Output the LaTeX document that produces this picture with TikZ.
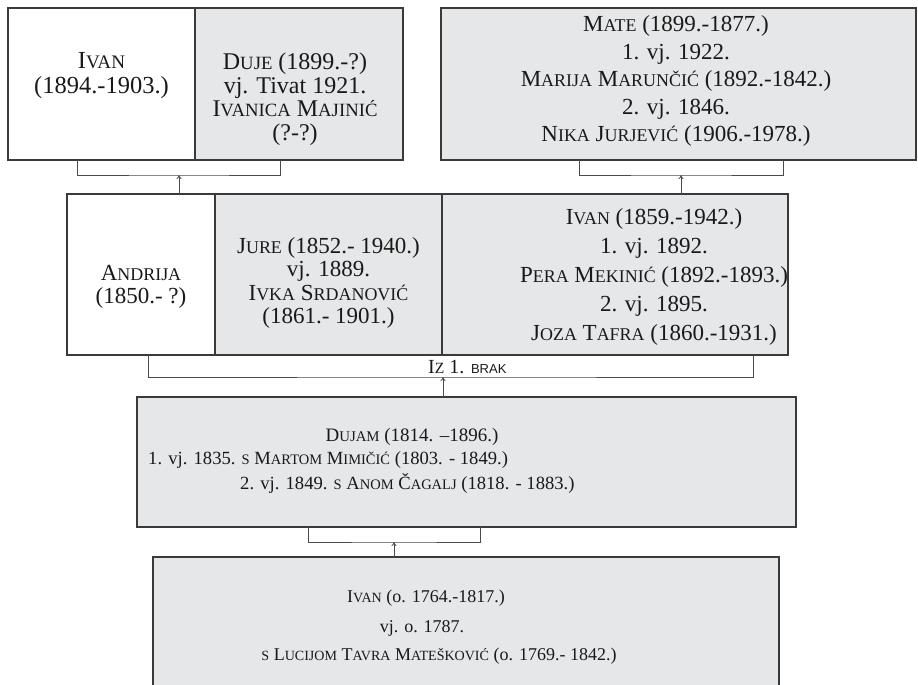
\documentclass[tikz,border=0pt]{standalone}
\usepackage{fontspec}
\setmainfont{Liberation Serif}
\setsansfont{Liberation Sans}
\usetikzlibrary{arrows.meta}
\definecolor{boxgray}{HTML}{E6E7E8}
\definecolor{edge}{HTML}{3A3A3A}
\definecolor{lnk}{HTML}{4A4A4A}
\makeatletter
\newcommand\sk[1]{{\fontsize{\fpeval{0.78*\f@size}}{\f@baselineskip}\selectfont #1}}
\makeatother
\begin{document}
\begin{tikzpicture}[x=1pt,y=-1pt,
  wbox/.style={draw=edge,line width=1.3pt,fill=white,inner sep=0pt},
  gbox/.style={draw=edge,line width=1.3pt,fill=boxgray,inner sep=0pt},
  txt/.style={inner sep=0pt,align=center,text=black!90},
  brk/.style={draw=lnk,line width=0.9pt},
  arr/.style={draw=lnk,line width=0.8pt,-{To[length=4pt,width=5pt]}}]
\useasboundingbox (0,0) rectangle (918,685);
% ---------- top row
\node[wbox,minimum width=187pt,minimum height=152pt] (ivanA) at (101.5,84) {};
\node[gbox,minimum width=208pt,minimum height=152pt] (duje) at (299,84) {};
\node[gbox,minimum width=475pt,minimum height=152pt] (mate) at (678.5,84) {};
\node[txt,font=\fontsize{24.5}{25}\selectfont] (tIvanA) at (101.5,76) {I\sk{VAN}\\(1894.-1903.)};
\node[txt,font=\fontsize{24}{23.5}\selectfont] (tDuje) at (295,99) {D\sk{UJE} (1899.-?)\\vj. Tivat 1921.\\I\sk{VANICA} M\sk{AJINIĆ}\\(?-?)};
\node[txt,font=\fontsize{23}{27.5}\selectfont] (tMate) at (676,81) {M\sk{ATE} (1899.-1877.)\\1. vj. 1922.\\M\sk{ARIJA} M\sk{ARUNČIĆ} (1892.-1842.)\\2. vj. 1846.\\N\sk{IKA} J\sk{URJEVIĆ} (1906.-1978.)};
% ---------- middle row
\node[wbox,minimum width=148pt,minimum height=161pt] (andrija) at (141,274.5) {};
\node[gbox,minimum width=227pt,minimum height=161pt] (jure) at (328.5,274.5) {};
\node[gbox,minimum width=346pt,minimum height=161pt] (ivanB) at (615,274.5) {};
\node[txt,font=\fontsize{23}{23}\selectfont] (tAndrija) at (141,287) {A\sk{NDRIJA}\\(1850.- ?)};
\node[txt,font=\fontsize{23}{23.5}\selectfont] (tJure) at (328.5,283) {J\sk{URE} (1852.- 1940.)\\vj. 1889.\\I\sk{VKA} S\sk{RDANOVIĆ}\\(1861.- 1901.)};
\node[txt,font=\fontsize{23}{29}\selectfont] (tIvanB) at (654,277) {I\sk{VAN} (1859.-1942.)\\1. vj. 1892.\\P\sk{ERA} M\sk{EKINIĆ} (1892.-1893.)\\2. vj. 1895.\\J\sk{OZA} T\sk{AFRA} (1860.-1931.)};
% ---------- Dujam
\node[gbox,minimum width=659pt,minimum height=130pt] (dujam) at (466.5,462) {};
\node[txt,font=\fontsize{19}{19}\selectfont] (tDujam1) at (412,437) {D\sk{UJAM} (1814. –1896.)};
\node[txt,font=\fontsize{18.6}{19}\selectfont,anchor=west] (tDujam2) at (148,460) {1. vj. 1835. \sk{S} M\sk{ARTOM} M\sk{IMIČIĆ} (1803. - 1849.)};
\node[txt,font=\fontsize{18.6}{19}\selectfont,anchor=west] (tDujam3) at (240,483) {2. vj. 1849. \sk{S} A\sk{NOM} Č\sk{AGALJ} (1818. - 1883.)};
% ---------- bottom Ivan (box runs off the page)
\coordinate (botTL) at (153,557);
\coordinate (botTR) at (779,557);
\coordinate (botBL) at (153,685);
\coordinate (botBR) at (779,685);
\fill[boxgray] (botTL) rectangle (botBR);
\draw[draw=edge,line width=1.3pt] (botBL) -- (botTL) -- (botTR) -- (botBR);
\node[txt,font=\fontsize{18}{18}\selectfont] (tBot1) at (426,598) {I\sk{VAN} (o. 1764.-1817.)};
\node[txt,font=\fontsize{18}{18}\selectfont] (tBot2) at (422,628) {vj. o. 1787.};
\node[txt,font=\fontsize{18}{18}\selectfont] (tBot3) at (439,656) {\sk{S} L\sk{UCIJOM} T\sk{AVRA} M\sk{ATEŠKOVIĆ} (o. 1769.- 1842.)};
% ---------- brackets and arrows
\coordinate (b1l) at (77,160);  \coordinate (b1r) at (280,160);
\coordinate (b1m) at (179,175); \coordinate (a1) at (179,194);
\draw[brk] (b1l) |- (b1m) -| (b1r);
\draw[arr] (a1) -- (b1m);
\coordinate (b2l) at (579,160); \coordinate (b2r) at (783,160);
\coordinate (b2m) at (681,175); \coordinate (a2) at (681,194);
\draw[brk] (b2l) |- (b2m) -| (b2r);
\draw[arr] (a2) -- (b2m);
\coordinate (b3l) at (148,355); \coordinate (b3r) at (753,355);
\coordinate (b3m) at (443,377); \coordinate (a3) at (443,397);
\draw[brk] (b3l) |- (b3m) -| (b3r);
\draw[arr] (a3) -- (b3m);
\node[txt,font=\fontsize{20}{20}\selectfont,anchor=west] (lbl) at (428,367) {I\sk{Z} 1. {\sffamily\fontsize{13}{13}\selectfont BRAK}};
\coordinate (b4l) at (308,527); \coordinate (b4r) at (480,527);
\coordinate (b4m) at (394,542); \coordinate (a4) at (394,557);
\draw[brk] (b4l) |- (b4m) -| (b4r);
\draw[arr] (a4) -- (b4m);
\end{tikzpicture}
\end{document}
